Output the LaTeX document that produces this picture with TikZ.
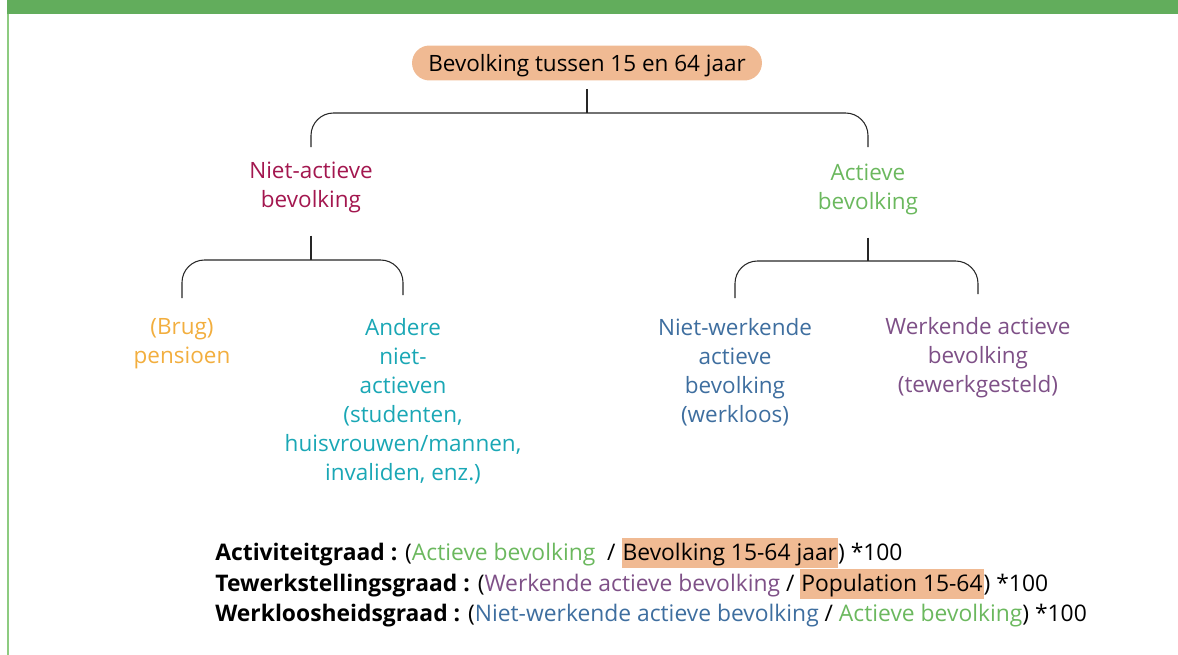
\documentclass[tikz,border=0pt]{standalone}
\usepackage{fontspec}
\setmainfont{Open Sans}
\usepackage{xcolor}
\usetikzlibrary{positioning}

\definecolor{band}{HTML}{62AD5C}
\definecolor{bandline}{HTML}{8DCB80}
\definecolor{pill}{HTML}{F0BA93}
\definecolor{inactive}{HTML}{A3174F}
\definecolor{active}{HTML}{6BB85E}
\definecolor{pension}{HTML}{F2AE3E}
\definecolor{others}{HTML}{1AA7B5}
\definecolor{jobless}{HTML}{3E6E9F}
\definecolor{working}{HTML}{7E5087}

\newcommand{\hl}[1]{{\setlength{\fboxsep}{0.6pt}\colorbox{pill}{\rule[-3pt]{0pt}{15.5pt}#1}}}

\begin{document}
\begin{tikzpicture}[
  x=0.02cm, y=-0.02cm,
  label/.style={font=\fontsize{12.8}{16.5}\selectfont, align=center, inner sep=0pt, anchor=north},
  rate/.style={font=\fontsize{13}{17}\selectfont, inner sep=0pt, anchor=base west},
  link/.style={draw=black!85, line width=0.6pt},
  brace/.style={link, rounded corners=4.5mm}
]
  \useasboundingbox (0,0) rectangle (1178,655);
  \fill[band] (7,0) rectangle (1178,14);
  \draw[bandline, line width=1.2pt] (8,14) -- (8,655);

  \node[fill=pill, rounded corners=0.35cm, minimum width=7cm, minimum height=0.7cm, inner sep=0pt,
        text depth=0.5pt, font=\fontsize{12.8}{16.5}\selectfont] (top) at (587,63) {Bevolking tussen 15 en 64 jaar};

  \node[label, text=inactive] (niet) at (311,162) {Niet-actieve\\bevolking};
  \node[label, text=active] (actief) at (868,164) {Actieve\\bevolking};

  \node[label, text=pension] (brug) at (182,318) {(Brug)\\pensioen};
  \node[label, text=others] (andere) at (403,318) {Andere\\niet-\\actieven\\(studenten,\\huisvrouwen/mannen,\\invaliden, enz.)};
  \node[label, text=jobless] (nwerk) at (735,318) {Niet-werkende\\actieve\\bevolking\\(werkloos)};
  \node[label, text=working] (werk) at (978,317) {Werkende actieve\\bevolking\\(tewerkgesteld)};

  \coordinate (j1) at (587,113);
  \coordinate (j2) at (311,260);
  \coordinate (j3) at (868,261);

  \draw[link, shorten <=1.6mm] (top.south) -- (j1);
  \draw[brace, shorten <=3mm, shorten >=3.4mm] (niet.north) |- (j1) -| (actief.north);
  \draw[link, shorten <=4.4mm] (niet.south) -- (j2);
  \draw[link, shorten <=4.4mm] (actief.south) -- (j3);
  \draw[brace, shorten <=4mm, shorten >=4.6mm] (brug.north) |- (j2) -| (andere.north);
  \draw[brace, shorten <=4mm, shorten >=4.6mm] (nwerk.north) |- (j3) -| (werk.north);

  \node[rate] (rate1) at (215,561) {\textbf{Activiteitgraad :} (\textcolor{active}{Actieve bevolking}\ \ / \hl{Bevolking 15-64 jaar}) *100};
  \node[rate] (rate2) at (215,592) {\textbf{Tewerkstellingsgraad :} (\textcolor{working}{Werkende actieve bevolking} / \hl{Population 15-64}) *100};
  \node[rate] (rate3) at (215,622) {\textbf{Werkloosheidsgraad :} (\textcolor{jobless}{Niet-werkende actieve bevolking} / \textcolor{active}{Actieve bevolking}) *100};
\end{tikzpicture}
\end{document}
